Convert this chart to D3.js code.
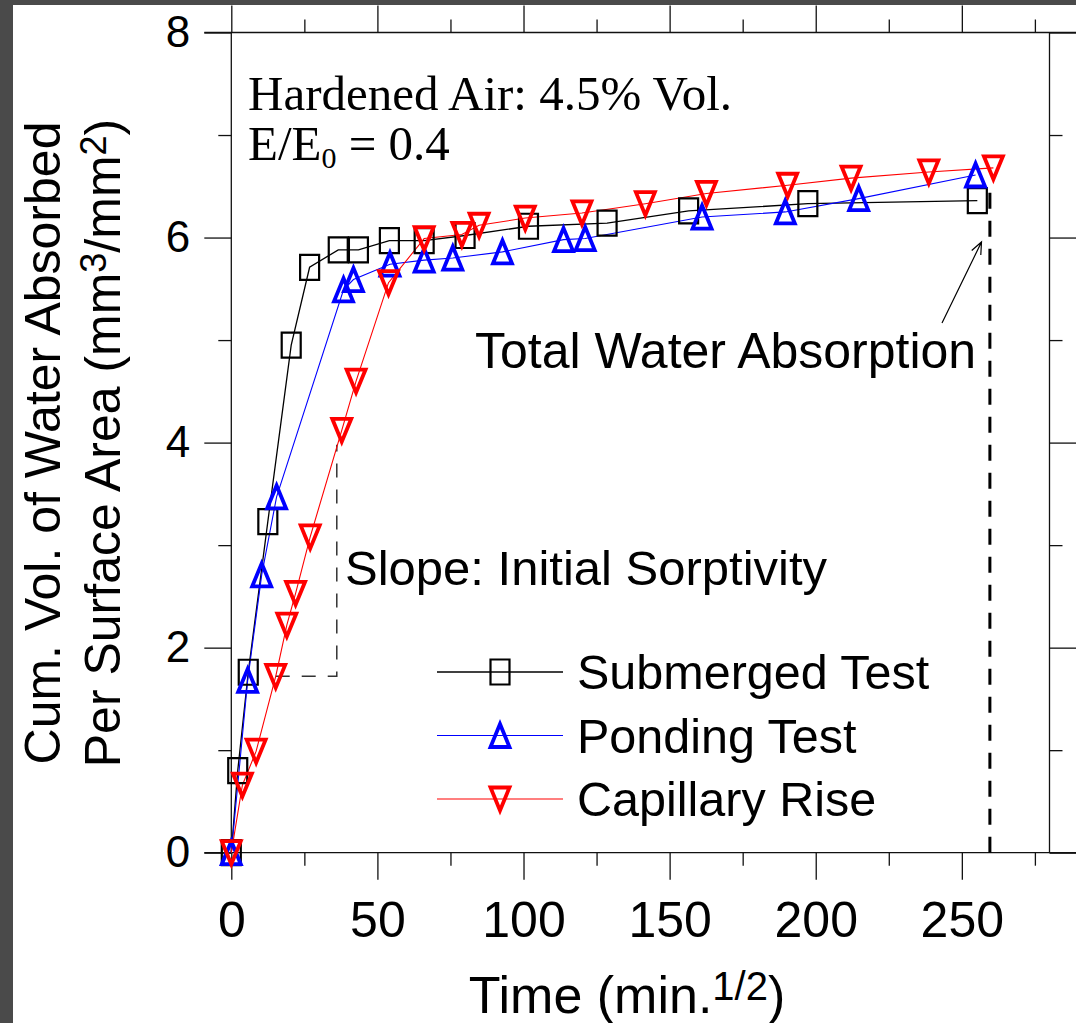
<!DOCTYPE html>
<html>
<head>
<meta charset="utf-8">
<script src="https://cdn.jsdelivr.net/npm/d3@7/dist/d3.min.js"></script>
<style>
  body { margin: 0; background: #4a4a4a; }
  svg { display: block; }
</style>
</head>
<body>
<div id="canvas"></div>
<script>
// time axis is sqrt(min), values are mm3/mm2
var subTime = [0, 2.2, 5.8, 12.5, 20.5, 26.8, 36.6, 43.5, 54.1, 66, 80, 101.7, 128.6, 156.5, 197.3, 255.3]
var subVol = [0, 0.8, 1.76, 3.23, 4.95, 5.71, 5.88, 5.88, 5.97, 5.97, 6.02, 6.11, 6.14, 6.26, 6.33, 6.36]

var pondTime = [0, 5.6, 10.4, 15.5, 38.4, 41.8, 54.3, 66, 75.8, 92.8, 113.7, 121.1, 161.1, 189.6, 214.7, 254.7]
var pondVol = [0, 1.68, 2.71, 3.47, 5.49, 5.59, 5.74, 5.78, 5.8, 5.86, 5.98, 5.99, 6.2, 6.25, 6.38, 6.61]

var capTime = [0, 3.8, 8.5, 15.2, 19, 22, 27, 37.8, 42.7, 53.8, 66, 78.9, 84.8, 100.6, 120, 141.7, 162.6, 190.4, 212.1, 238.7, 260.8]
var capVol = [0, 0.66, 0.99, 1.72, 2.22, 2.53, 3.08, 4.12, 4.6, 5.56, 5.99, 6.03, 6.12, 6.19, 6.24, 6.33, 6.43, 6.51, 6.58, 6.64, 6.68]

var seriesNames = ['Submerged Test', 'Ponding Test', 'Capillary Rise']
var xMajor = [0, 50, 100, 150, 200, 250]
var xMinor = [25, 75, 125, 175, 225, 275]
var yMajor = [0, 2, 4, 6, 8]
var yMinor = [1, 3, 5, 7]

// slope triangle and total absorption marker (data coords)
var slopeFrom = [15.2, 1.72]
var slopeTo = [36.1, 3.98]
var totalTime = 259.6
var totalTop = 6.54

;(function () {
  var W = 1076, H = 1023
  var sans = 'Liberation Sans, Arial, sans-serif'
  var serif = 'Liberation Serif, Times New Roman, serif'

  var svg = d3.select('#canvas').append('svg')
    .attr('width', W).attr('height', H)

  svg.append('rect').attr('x', 13).attr('y', 5)
    .attr('width', W - 13).attr('height', H - 5).attr('fill', '#fff')

  var x = d3.scaleLinear().domain([0, 280]).range([231.3, 1049.5])
  var y = d3.scaleLinear().domain([0, 8]).range([852.7, 32.5])

  var zip = function (a, b) { return a.map(function (v, i) { return [v, b[i]] }) }
  var series = [
    { name: seriesNames[0], pts: zip(subTime, subVol), color: '#000', lw: 1.3, shape: 'square' },
    { name: seriesNames[1], pts: zip(pondTime, pondVol), color: '#0000ff', lw: 1.1, shape: 'up' },
    { name: seriesNames[2], pts: zip(capTime, capVol), color: '#ff0000', lw: 1.1, shape: 'down' }
  ]

  var styleAxis = function (g) {
    g.select('.domain').remove()
    g.selectAll('line').attr('stroke', '#111').attr('stroke-width', 1.3)
  }

  // frame lines
  var frame = svg.append('g').attr('stroke', '#111').attr('stroke-width', 1.3)
  frame.append('line').attr('x1', x(0) - 27).attr('x2', W + 10).attr('y1', y(0)).attr('y2', y(0))
  frame.append('line').attr('x1', x(0) - 27).attr('x2', W + 10).attr('y1', y(8)).attr('y2', y(8))
  frame.append('line').attr('x1', x(0)).attr('x2', x(0)).attr('y1', y(8)).attr('y2', y(0))
  frame.append('line').attr('x1', x(280)).attr('x2', x(280)).attr('y1', y(8)).attr('y2', y(0))

  // bottom
  svg.append('g').attr('transform', 'translate(0,' + y(0) + ')')
    .call(d3.axisBottom(x).tickValues(xMajor).tickSize(27).tickPadding(22))
    .call(styleAxis)
    .selectAll('text').attr('font-family', sans).attr('font-size', 50).attr('fill', '#000')
  svg.append('g').attr('transform', 'translate(0,' + y(0) + ')')
    .call(d3.axisBottom(x).tickValues(xMinor).tickSize(13).tickFormat(''))
    .call(styleAxis)
  // top
  svg.append('g').attr('transform', 'translate(0,' + y(8) + ')')
    .call(d3.axisTop(x).tickValues(xMajor).tickSize(27).tickFormat(''))
    .call(styleAxis)
  svg.append('g').attr('transform', 'translate(0,' + y(8) + ')')
    .call(d3.axisTop(x).tickValues(xMinor).tickSize(13).tickFormat(''))
    .call(styleAxis)
  // left
  svg.append('g').attr('transform', 'translate(' + x(0) + ',0)')
    .call(d3.axisLeft(y).tickValues(yMajor).tickSize(27).tickPadding(14))
    .call(styleAxis)
    .selectAll('text').attr('font-family', sans).attr('font-size', 44).attr('fill', '#000')
  svg.append('g').attr('transform', 'translate(' + x(0) + ',0)')
    .call(d3.axisLeft(y).tickValues(yMinor).tickSize(13).tickFormat(''))
    .call(styleAxis)
  // right
  svg.append('g').attr('transform', 'translate(' + x(280) + ',0)')
    .call(d3.axisRight(y).tickValues(yMajor).tickSize(27).tickFormat(''))
    .call(styleAxis)
  svg.append('g').attr('transform', 'translate(' + x(280) + ',0)')
    .call(d3.axisRight(y).tickValues(yMinor).tickSize(13).tickFormat(''))
    .call(styleAxis)

  // annotations: dashed guides
  var dash = svg.append('g').attr('fill', 'none')
  dash.append('path')
    .attr('d', 'M' + x(slopeFrom[0]) + ',' + y(slopeFrom[1]) + 'H' + x(slopeTo[0]) + 'V' + y(slopeTo[1]))
    .attr('stroke', '#333').attr('stroke-width', 1.5).attr('stroke-dasharray', '14,12')
  dash.append('line')
    .attr('x1', x(totalTime)).attr('x2', x(totalTime))
    .attr('y1', y(0)).attr('y2', y(totalTop))
    .attr('stroke', '#000').attr('stroke-width', 3).attr('stroke-dasharray', '16,12')

  // arrow to total absorption
  var ax0 = 942, ay0 = 323, ax1 = 981.5, ay1 = 242
  var ang = Math.atan2(ay1 - ay0, ax1 - ax0)
  var arm = function (s) {
    return (ax1 - 13 * Math.cos(ang + s)) + ',' + (ay1 - 13 * Math.sin(ang + s))
  }
  svg.append('path')
    .attr('d', 'M' + ax0 + ',' + ay0 + 'L' + ax1 + ',' + ay1 + 'M' + arm(0.4) + 'L' + ax1 + ',' + ay1 + 'L' + arm(-0.4))
    .attr('fill', 'none').attr('stroke', '#000').attr('stroke-width', 1.2)

  // lines
  var line = d3.line().x(function (d) { return x(d[0]) }).y(function (d) { return y(d[1]) })
  series.forEach(function (s) {
    svg.append('path').datum(s.pts).attr('d', line)
      .attr('fill', 'none').attr('stroke', s.color).attr('stroke-width', s.lw)
  })

  var shapePath = function (shape) {
    if (shape === 'square') return 'M-9.5,-12.5H9.5V12.5H-9.5Z'
    if (shape === 'up') return 'M0,-11.5L9.5,11.5L-9.5,11.5Z'
    return 'M0,11.5L9.5,-11.5L-9.5,-11.5Z'
  }
  var drawMarker = function (g, s, px, py) {
    g.append('path').attr('d', shapePath(s.shape))
      .attr('transform', 'translate(' + px + ',' + py + ')')
      .attr('fill', 'none').attr('stroke', s.color)
      .attr('stroke-width', s.shape === 'square' ? 2.2 : 3.8)
  }

  series.forEach(function (s) {
    var g = svg.append('g')
    s.pts.forEach(function (d) { drawMarker(g, s, x(d[0]), y(d[1])) })
  })

  // legend
  var legY = [672, 735.5, 799]
  series.forEach(function (s, i) {
    var g = svg.append('g')
    g.append('line').attr('x1', 437).attr('x2', 563).attr('y1', legY[i]).attr('y2', legY[i])
      .attr('stroke', s.color).attr('stroke-width', s.lw)
    drawMarker(g, s, 500, legY[i])
    g.append('text').attr('x', 577).attr('y', legY[i] + 17)
      .attr('font-family', sans).attr('font-size', 48.5).text(s.name)
  })

  // text annotations
  svg.append('text').attr('x', 248).attr('y', 110)
    .attr('font-family', serif).attr('font-size', 49).text('Hardened Air: 4.5% Vol.')
  var e = svg.append('text').attr('x', 248).attr('y', 160)
    .attr('font-family', serif).attr('font-size', 49)
  e.append('tspan').text('E/E')
  e.append('tspan').attr('font-size', 30).attr('dy', 8).text('0')
  e.append('tspan').attr('dy', -8).text(' = 0.4')

  svg.append('text').attr('x', 475).attr('y', 368)
    .attr('font-family', sans).attr('font-size', 50).text('Total Water Absorption')
  svg.append('text').attr('x', 345).attr('y', 585)
    .attr('font-family', sans).attr('font-size', 49).text('Slope: Initial Sorptivity')

  // axis titles
  var yt = svg.append('text').attr('transform', 'translate(0,443) rotate(-90)')
    .attr('font-family', sans).attr('font-size', 50).attr('text-anchor', 'middle')
  yt.append('tspan').attr('x', 0).attr('y', 60).text('Cum. Vol. of Water Absorbed')
  var l2 = yt.append('tspan').attr('x', 0).attr('y', 120)
  l2.append('tspan').text('Per Surface Area (mm')
  l2.append('tspan').attr('font-size', 36).attr('dy', -14).text('3')
  l2.append('tspan').attr('dy', 14).text('/mm')
  l2.append('tspan').attr('font-size', 36).attr('dy', -14).text('2')
  l2.append('tspan').attr('dy', 14).text(')')

  var xt = svg.append('text').attr('x', 627).attr('y', 1013)
    .attr('font-family', sans).attr('font-size', 52).attr('text-anchor', 'middle')
  xt.append('tspan').text('Time (min.')
  xt.append('tspan').attr('font-size', 40).attr('dy', -13).text('1/2')
  xt.append('tspan').attr('dy', 13).text(')')
})()
</script>
</body>
</html>
